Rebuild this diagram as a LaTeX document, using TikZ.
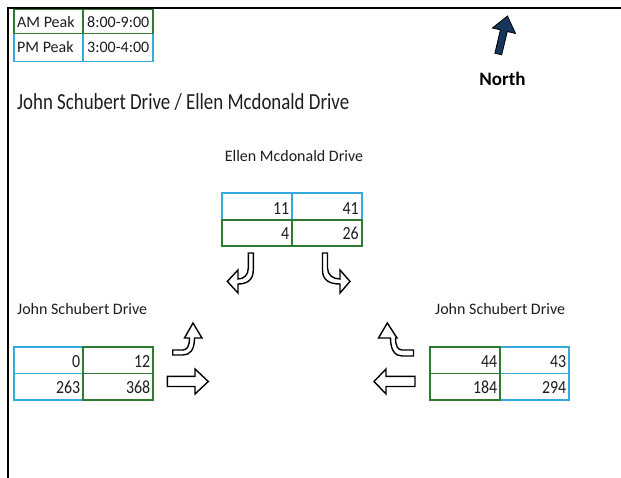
\documentclass[tikz,border=0pt]{standalone}
\usepackage{fontspec}
\setmainfont{Carlito}
\newfontfamily\titlefont[FakeStretch=0.82]{Carlito}
\newfontfamily\numfont[FakeStretch=0.86]{Carlito}
\definecolor{tblue}{RGB}{52,170,222}
\definecolor{tgreen}{RGB}{46,122,50}
\definecolor{txt}{RGB}{30,30,30}
\definecolor{navy}{RGB}{22,54,92}
\tikzset{
  lbl/.style={font=\fontsize{16}{19}\selectfont, text=txt, inner sep=0pt},
  num/.style={font=\numfont\fontsize{18.5}{21}\selectfont, text=txt, inner sep=0pt, anchor=base east},
  bluebox/.style={draw=tblue, line width=1.8pt},
  greenbox/.style={draw=tgreen, line width=1.8pt},
  bluediv/.style={draw=tblue, line width=1.2pt},
  greendiv/.style={draw=tgreen, line width=1.2pt},
  blockarrow/.style={draw=black, fill=white, line width=1.4pt, line join=miter},
  sheetframe/.style={draw=black, line width=2pt}
}
\begin{document}
\begin{tikzpicture}[x=1pt, y=-1pt]
% white sheet
\fill[white] (0,0) rectangle (621,478);
\useasboundingbox (0,0) rectangle (621,478);

% sheet frame
\draw[sheetframe] (8,478) -- (8,8) -- (621,8);

% peak-hour legend
\draw[bluebox] (14,33.5) rectangle (153,61.5);
\draw[bluediv] (83,33.5) -- (83,61.5);
\draw[greenbox] (14,9.5) rectangle (153,33.5);
\draw[greendiv] (83,9.5) -- (83,33.5);
\node[lbl, anchor=base west] (amlbl) at (17,27.5) {AM Peak};
\node[lbl, anchor=base west] (amtime) at (87,27.5) {8:00-9:00};
\node[lbl, anchor=base west] (pmlbl) at (17,53) {PM Peak};
\node[lbl, anchor=base west] (pmtime) at (87,53) {3:00-4:00};

% north arrow
\draw[draw=black, fill=navy, line width=0.8pt, line join=miter]
  (507.5,16) -- (515.5,33.5) -- (507.3,31.5) -- (501.7,54.8) -- (494.9,53.2)
  -- (500.4,29.8) -- (492.4,28) -- cycle;
\node[font=\bfseries\fontsize{19}{22}\selectfont, text=black, inner sep=0pt, anchor=base]
  (north) at (502.5,86) {North};

% title
\node[font=\titlefont\fontsize{23}{27}\selectfont, text=txt, inner sep=0pt, anchor=base west]
  (title) at (17,110) {John Schubert Drive / Ellen Mcdonald Drive};

% north approach
\node[lbl, anchor=base] (ellen) at (294,162) {Ellen Mcdonald Drive};
\draw[bluebox] (222,193.3) rectangle (361.7,220);
\draw[bluediv] (292,193.3) -- (292,220);
\draw[greenbox] (222,220) rectangle (361.7,246);
\draw[greendiv] (292,220) -- (292,246);
\node[num] (n11) at (289.5,214.5) {11};
\node[num] (n41) at (359,214.5) {41};
\node[num] (n4) at (289.5,240) {4};
\node[num] (n26) at (359,240) {26};

% north approach movements
\draw[blockarrow]
  (248.3,253) -- (253.3,253) -- (253.3,270)
  .. controls (253.3,280) and (247,284) .. (238,284)
  -- (238,293) -- (227.3,281.4) -- (238,270) -- (238,279)
  .. controls (244,279) and (248.3,275) .. (248.3,268) -- cycle;
\draw[blockarrow]
  (327.5,253) -- (322.5,253) -- (322.5,270)
  .. controls (322.5,280) and (329,284) .. (340,284)
  -- (340,293) -- (350,281.4) -- (340,270) -- (340,279)
  .. controls (333,279) and (327.5,275) .. (327.5,268) -- cycle;

% west approach
\node[lbl, anchor=base west] (westlbl) at (17,315) {John Schubert Drive};
\draw[bluebox] (14,347.3) rectangle (82.7,400);
\draw[bluediv] (14,373.3) -- (82.7,373.3);
\draw[greenbox] (82.7,347.3) rectangle (153.3,400);
\draw[greendiv] (82.7,373.3) -- (153.3,373.3);
\node[num] (n0) at (80.5,367) {0};
\node[num] (n12) at (150.5,367) {12};
\node[num] (n263) at (80.5,393.5) {263};
\node[num] (n368) at (150.5,393.5) {368};

% west approach movements
\draw[blockarrow]
  (172.7,350) -- (183,350)
  .. controls (187,350) and (189.5,346) .. (189.5,338)
  -- (184.5,338) -- (193,323) -- (202,338) -- (194.5,338)
  .. controls (194.5,350) and (190,355) .. (183,355)
  -- (172.7,355) -- cycle;
\draw[blockarrow]
  (167.3,376.3) -- (195,376.3) -- (195,369) -- (208.3,381.5) -- (195,394)
  -- (195,386.5) -- (167.3,386.5) -- cycle;

% east approach
\node[lbl, anchor=base west] (eastlbl) at (435,315) {John Schubert Drive};
\draw[bluebox] (500,347.3) rectangle (569.3,400);
\draw[bluediv] (500,373.3) -- (569.3,373.3);
\draw[greenbox] (430,347.3) rectangle (500,400);
\draw[greendiv] (430,373.3) -- (500,373.3);
\node[num] (n44) at (497.5,367) {44};
\node[num] (n43) at (566.5,367) {43};
\node[num] (n184) at (497.5,393.5) {184};
\node[num] (n294) at (566.5,393.5) {294};

% east approach movements
\draw[blockarrow]
  (413.5,350) -- (402,350)
  .. controls (398,350) and (395.5,346) .. (395.5,338)
  -- (397,338) -- (387.3,323) -- (378.5,338) -- (390.5,338)
  .. controls (390.5,350) and (395,356) .. (402,356)
  -- (413.5,356) -- cycle;
\draw[blockarrow]
  (415,376.3) -- (386,376.3) -- (386,369) -- (374,381.5) -- (386,394)
  -- (386,386.5) -- (415,386.5) -- cycle;
\end{tikzpicture}
\end{document}
